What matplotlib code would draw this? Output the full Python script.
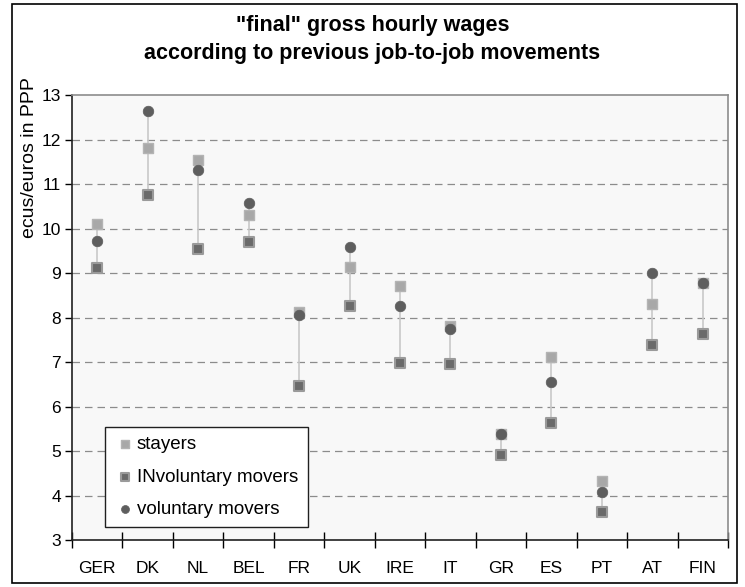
import matplotlib
matplotlib.use("Agg")
import matplotlib.pyplot as plt
from matplotlib.patches import Rectangle
import numpy as np

plt.rcParams['font.family'] = ['Liberation Sans', 'DejaVu Sans']

countries = ['GER', 'DK', 'NL', 'BEL', 'FR', 'UK', 'IRE', 'IT', 'GR', 'ES', 'PT', 'AT', 'FIN']
stayers = [10.10, 11.80, 11.53, 10.30, 8.12, 9.13, 8.70, 7.82, 5.38, 7.12, 4.32, 8.30, 8.78]
involuntary = [9.12, 10.75, 9.55, 9.70, 6.45, 8.25, 6.98, 6.95, 4.92, 5.62, 3.62, 7.38, 7.62]
voluntary = [9.72, 12.65, 11.32, 10.58, 8.05, 9.58, 8.25, 7.75, 5.38, 6.55, 4.08, 9.00, 8.78]

x = np.arange(len(countries))
lo = np.minimum(np.minimum(stayers, involuntary), voluntary)
hi = np.maximum(np.maximum(stayers, involuntary), voluntary)

fig = plt.figure(figsize=(7.45, 5.87), dpi=100)
ax = fig.add_axes([72 / 745, 1 - 540 / 587, 656 / 745, 445 / 587])
ax.set_facecolor('#f8f8f8')

# range line for each country
ax.vlines(x, lo, hi, color='#c8c8c8', linewidth=1.2, zorder=2)

ax.scatter(x, stayers, marker='s', s=48, color='#a8a8a8', edgecolor='#b4b4b4',
           linewidth=1, zorder=3, label='stayers')
ax.scatter(x, involuntary, marker='s', s=48, color='#6a6a6a', edgecolor='#9a9a9a',
           linewidth=1.5, zorder=4, label='INvoluntary movers')
ax.scatter(x, voluntary, marker='o', s=58, color='#5e5e5e', edgecolor='#5e5e5e',
           linewidth=0.5, zorder=5, label='voluntary movers')

ax.set_xlim(-0.5, len(countries) - 0.5)
ax.set_ylim(3, 13)
ax.set_yticks(range(3, 14))
for yv in range(4, 13):
    ax.axhline(yv, color='#8c8c8c', linestyle=(0, (6, 4)), linewidth=0.9, zorder=1)

# category labels centred, ticks at the boundaries
ax.set_xticks(x)
ax.set_xticklabels(countries, fontsize=12.5)
ax.tick_params(axis='x', which='major', length=0, pad=15)
ax.set_xticks(np.arange(-0.5, len(countries)), minor=True)
ax.tick_params(axis='x', which='minor', direction='inout', length=11, width=1)
ax.tick_params(axis='y', direction='out', length=5, width=1, labelsize=12.5, pad=3)

for side in ['top', 'right']:
    ax.spines[side].set_color('#8c8c8c')
    ax.spines[side].set_linewidth(1.2)
for side in ['left', 'bottom']:
    ax.spines[side].set_color('#202020')
    ax.spines[side].set_linewidth(1.2)

fig.text(30 / 745, 1 - 158 / 587, 'ecus/euros in PPP', rotation=90, fontsize=14,
         ha='center', va='center')
fig.text(0.5, 1 - 26 / 587, '"final" gross hourly wages', fontsize=15.5,
         fontweight='bold', ha='center', va='center')
fig.text(0.5, 1 - 54 / 587, 'according to previous job-to-job movements', fontsize=15.5,
         fontweight='bold', ha='center', va='center')

leg = ax.legend(loc='lower left', bbox_to_anchor=(33 / 656, 13 / 445), fontsize=13.5,
                frameon=True, fancybox=False, edgecolor='#202020', facecolor='white',
                framealpha=1, borderpad=0.5, handletextpad=0.1, labelspacing=0.8,
                markerscale=0.75, handlelength=1.1, borderaxespad=0)
leg.get_frame().set_linewidth(1)

fig.patches.append(Rectangle((12 / 745, 4 / 587), 725 / 745, 579 / 587, fill=False,
                             edgecolor='black', linewidth=1.2, transform=fig.transFigure))

fig.savefig('out.png', dpi=100)
